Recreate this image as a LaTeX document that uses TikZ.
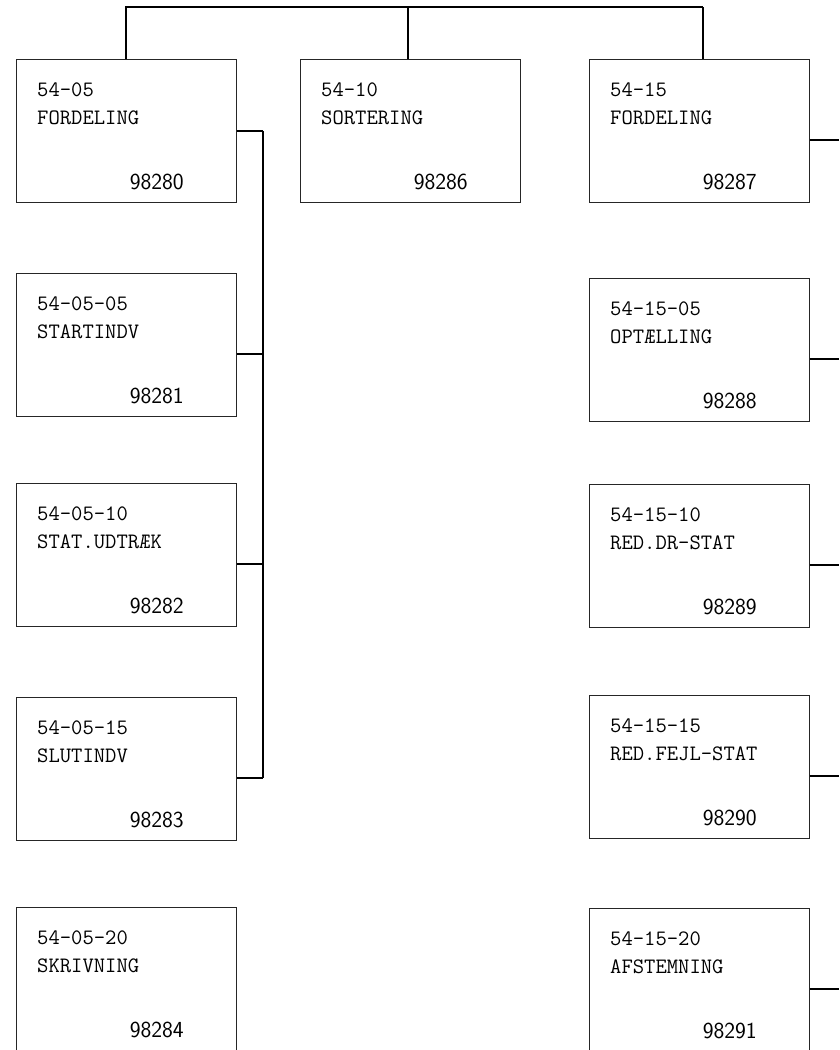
\documentclass[tikz,border=0pt]{standalone}
\usetikzlibrary{calc}
\begin{document}
\begin{tikzpicture}[
        x=1pt, y=-1pt,
        box/.style={draw=black!85, line width=0.9pt, rectangle, minimum width=220pt, minimum height=143pt, anchor=north west, inner sep=0pt},
        codetxt/.style={font=\ttfamily\fontsize{22}{26}\selectfont, anchor=base west, inner sep=0pt},
        numtxt/.style={font=\sffamily\fontsize{23}{27}\selectfont, anchor=base east, inner sep=0pt},
        bus/.style={draw, line width=1.6pt},
        riser/.style={draw, line width=2.6pt},
        link/.style={draw, line width=1.3pt},
    ]
    \useasboundingbox (0,0) rectangle (839,1050);
    \clip (0,0) rectangle (839,1050);
    % boxes
    \foreach \id/\x/\y/\cd/\ttl/\nr in {
        5405/16/59/54-05/FORDELING/98280,
        540505/16/273/54-05-05/STARTINDV/98281,
        540510/16/483/54-05-10/STAT.UDTRÆK/98282,
        540515/16/697/54-05-15/SLUTINDV/98283,
        540520/16/907/54-05-20/SKRIVNING/98284,
        5410/300/59/54-10/SORTERING/98286,
        5415/589/59/54-15/FORDELING/98287,
        541505/589/278/54-15-05/OPTÆLLING/98288,
        541510/589/484/54-15-10/RED.DR-STAT/98289,
        541515/589/695/54-15-15/RED.FEJL-STAT/98290,
        541520/589/908/54-15-20/AFSTEMNING/98291%
    }{
        \node[box] (b\id) at (\x,\y) {};
        \node[codetxt] (c\id) at (\x+21,\y+37) {\cd};
        \node[codetxt] (t\id) at (\x+21,\y+65) {\ttl};
        \node[numtxt] (n\id) at (\x+168,\y+130) {\nr};
    }
    % top bus
    \coordinate (topl) at (126,7);
    \coordinate (topm) at (408,7);
    \coordinate (topr) at (703,7);
    \draw[bus] (topl |- b5405.north) -- (topl) -- (topr);
    \draw[riser] (topm) -- (topm |- b5410.north);
    \draw[riser] (topr) -- (topr |- b5415.north);
    % left column
    \coordinate (spine) at (263,0);
    \foreach \id in {540505,540510,540515}
        \coordinate (j\id) at ($(b\id.east)+(0,9)$);
    \draw[link] (b5405.east) -- (b5405.east -| spine);
    \draw[riser] (b5405.east -| spine) -- (j540515 -| spine);
    \foreach \id in {540505,540510,540515}
        \draw[link] (j\id) -- (j\id -| spine);
    % right column
    \coordinate (edge) at (839,0);
    \foreach \id in {5415,541505,541510,541515,541520}{
        \coordinate (r\id) at ($(b\id.east)+(0,9)$);
        \draw[link] (r\id) -- (r\id -| edge);
    }
\end{tikzpicture}
\end{document}
